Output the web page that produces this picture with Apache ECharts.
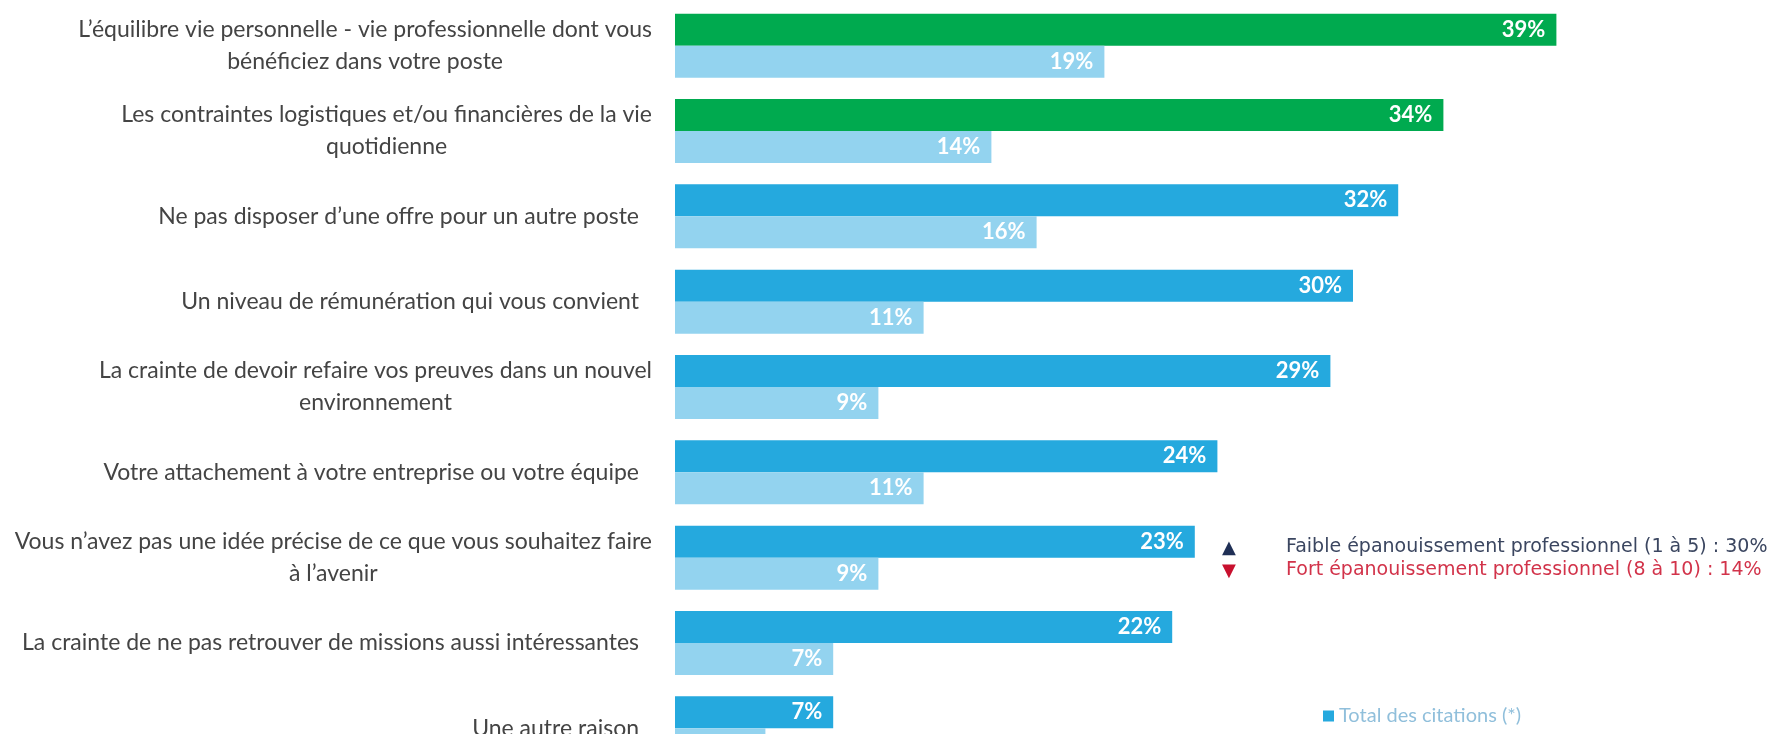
<!DOCTYPE html>
<html>
<head>
<meta charset="utf-8">
<script src="https://cdn.jsdelivr.net/npm/echarts@6/dist/echarts.min.js"></script>
<style>
  html, body { margin: 0; padding: 0; background: #ffffff; overflow: hidden; }
  #chart { width: 1779px; height: 790px; }
</style>
</head>
<body>
<div id="chart"></div>
<script>
const categories = [
  "L\u2019équilibre vie personnelle - vie professionnelle dont vous\nbénéficiez dans votre poste",
  "Les contraintes logistiques et/ou financières de la vie\nquotidienne",
  "Ne pas disposer d\u2019une offre pour un autre poste",
  "Un niveau de rémunération qui vous convient",
  "La crainte de devoir refaire vos preuves dans un nouvel\nenvironnement",
  "Votre attachement à votre entreprise ou votre équipe",
  "Vous n\u2019avez pas une idée précise de ce que vous souhaitez faire\nà l\u2019avenir",
  "La crainte de ne pas retrouver de missions aussi intéressantes",
  "Une autre raison"
];
const totalValues = [39, 34, 32, 30, 29, 24, 23, 22, 7];
const secondValues = [19, 14, 16, 11, 9, 11, 9, 7, 4];
const highlighted = [0, 1];
const totalName = "Total des citations (*)";
const noteLines = [
  "Faible épanouissement professionnel (1 à 5) : 30%",
  "Fort épanouissement professionnel (8 à 10) : 14%"
];

const GREEN = "#00aa4f";
const BLUE = "#25a9de";
const LIGHT = "#93d3ef";

const chart = echarts.init(document.getElementById("chart"), null, { renderer: "canvas" });

const labelStyle = {
  show: true,
  position: "insideRight",
  distance: 11,
  color: "#ffffff",
  fontFamily: "Lato",
  fontWeight: "bold",
  fontSize: 22,
  formatter: p => p.value + "%"
};

chart.setOption({
  animation: false,
  backgroundColor: "#ffffff",
  grid: { left: 675, top: 3, width: 904, height: 768, containLabel: false },
  legend: {
    data: [totalName],
    left: 1318,
    top: 701,
    itemWidth: 11,
    itemHeight: 11,
    itemGap: 6,
    icon: "rect",
    textStyle: { color: "#90bfdb", fontFamily: "Lato", fontSize: 20 }
  },
  xAxis: {
    type: "value",
    min: 0,
    max: 40,
    show: false
  },
  yAxis: {
    type: "category",
    inverse: true,
    data: categories,
    axisLine: { show: false },
    axisTick: { show: false },
    splitLine: { show: false },
    axisLabel: {
      margin: 23,
      align: "right",
      formatter: v => v.indexOf("\n") >= 0
        ? v.split("\n").map(l => "{c|" + l + "}").join("\n")
        : "{s|" + v + "}",
      rich: {
        c: { align: "center", color: "#444444", fontFamily: "Lato", fontSize: 23, lineHeight: 32 },
        s: { align: "center", color: "#444444", fontFamily: "Lato", fontSize: 23, lineHeight: 32, padding: [0, 13, 0, 0] }
      }
    }
  },
  series: [
    {
      name: totalName,
      type: "bar",
      barWidth: 32,
      barGap: "0%",
      itemStyle: { color: BLUE },
      data: totalValues.map((v, i) => highlighted.includes(i) ? { value: v, itemStyle: { color: GREEN } } : v),
      label: labelStyle
    },
    {
      name: "secondary",
      type: "bar",
      barWidth: 32,
      barGap: "0%",
      itemStyle: { color: LIGHT },
      data: secondValues,
      label: labelStyle
    }
  ],
  graphic: [
    { type: "text", x: 1229, y: 548, style: { text: "\u25B2", fill: "#1f2f55", fontSize: 18, fontFamily: "DejaVu Sans", align: "center", verticalAlign: "middle" } },
    { type: "text", x: 1229, y: 571, style: { text: "\u25BC", fill: "#c8102e", fontSize: 18, fontFamily: "DejaVu Sans", align: "center", verticalAlign: "middle" } },
    { type: "text", x: 1286, y: 547, style: { text: noteLines[0], fill: "#3b4660", fontSize: 19, fontFamily: "DejaVu Sans", align: "left", verticalAlign: "middle" } },
    { type: "text", x: 1286, y: 570, style: { text: noteLines[1], fill: "#d2334a", fontSize: 19, fontFamily: "DejaVu Sans", align: "left", verticalAlign: "middle" } }
  ]
});
</script>
</body>
</html>
